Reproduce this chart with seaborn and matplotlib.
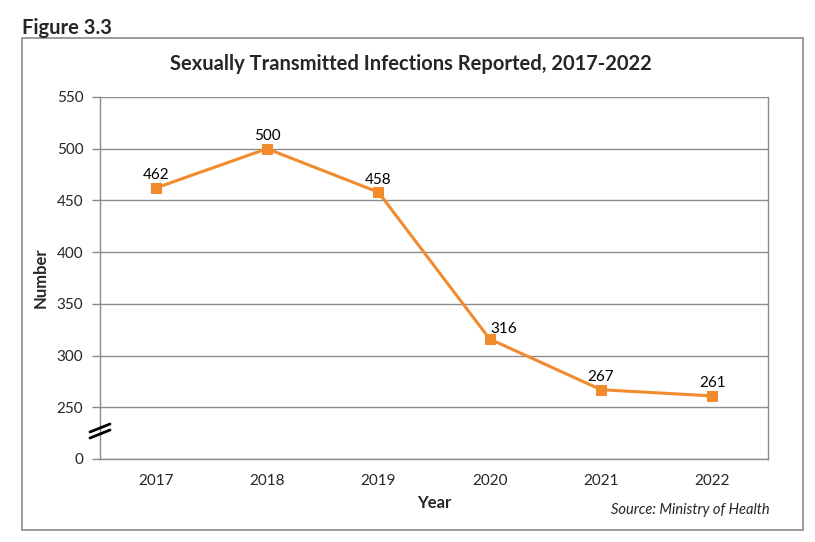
import matplotlib
matplotlib.use("Agg")
import matplotlib.pyplot as plt
import seaborn as sns
import pandas as pd
from matplotlib.patches import Rectangle

years = ["2017", "2018", "2019", "2020", "2021", "2022"]
cases = [462, 500, 458, 316, 267, 261]
ytick_values = [200, 250, 300, 350, 400, 450, 500, 550]
ytick_labels = ["0", "250", "300", "350", "400", "450", "500", "550"]
label_offsets = [(0, 4), (0, 4), (0, 4), (10, 2), (0, 4), (0, 4)]

sns.set_theme(style="white")
plt.rcParams['font.family'] = ['Lato', 'DejaVu Sans']

W, H = 815, 542
fig = plt.figure(figsize=(W / 100, H / 100), dpi=100)
ax = fig.add_axes([100 / W, (H - 459) / H, 668 / W, 362 / H])

df = pd.DataFrame({"Year": years, "Number": cases})
color = "#F28A2E"
sns.lineplot(data=df, x="Year", y="Number", ax=ax, color=color, linewidth=2.2,
             marker="s", markersize=7, markeredgecolor=color, sort=False)

for i, (v, off) in enumerate(zip(cases, label_offsets)):
    ax.annotate(str(v), (i, v), xytext=off, textcoords="offset points",
                ha="center", va="bottom", fontsize=11, color="black")

ax.set_xlim(-0.5, len(years) - 0.5)
ax.set_ylim(200, 550)
ax.set_yticks(ytick_values)
ax.set_yticklabels(ytick_labels, fontsize=11)
ax.set_xticks(range(len(years)))
ax.set_xticklabels(years, fontsize=11)
ax.set_xticks([i - 0.5 for i in range(len(years) + 1)], minor=True)
ax.tick_params(axis="x", which="major", length=0, pad=11)
ax.tick_params(axis="x", which="minor", length=5, color="#888888", width=1, direction="out")
ax.tick_params(axis="y", which="major", length=6, color="#888888", width=1, direction="out", left=True, pad=6)

ax.yaxis.grid(True, color="#8c8c8c", linewidth=1)
ax.set_axisbelow(True)
for s in ["left", "bottom", "right"]:
    ax.spines[s].set_color("#8c8c8c")
    ax.spines[s].set_linewidth(1)
ax.spines["top"].set_visible(False)

ax.set_xlabel("Year", fontsize=12, fontweight="bold")
ax.set_ylabel("Number", fontsize=12, fontweight="bold")
ax.yaxis.set_label_coords((49 - 100) / 668, 0.5)
ax.xaxis.set_label_coords(0.5, -(495 - 459) / 362)

# axis break marks
for dy in (0, 6):
    x0, y0 = 90 / W, (H - 435 - dy + 3) / H
    x1, y1 = 110 / W, (H - 427 - dy + 3) / H
    fig.add_artist(plt.Line2D([x0, x1], [y0, y1], color="black", linewidth=2, transform=fig.transFigure))

# outer frame
fig.add_artist(Rectangle((22 / W, (H - 530) / H), (803 - 22) / W, (530 - 38) / H,
                         transform=fig.transFigure, fill=False, edgecolor="#8c8c8c", linewidth=1.2))

fig.text(22 / W, (H - 28) / H, "Figure 3.3", fontsize=14.5, fontweight="bold", ha="left", va="center")
fig.text(411 / W, (H - 64) / H, "Sexually Transmitted Infections Reported, 2017-2022",
         fontsize=14.5, fontweight="bold", ha="center", va="center")
fig.text(770 / W, (H - 510) / H, "Source: Ministry of Health", fontsize=10.5, style="italic",
         ha="right", va="center")

fig.savefig("out.png", dpi=100)
